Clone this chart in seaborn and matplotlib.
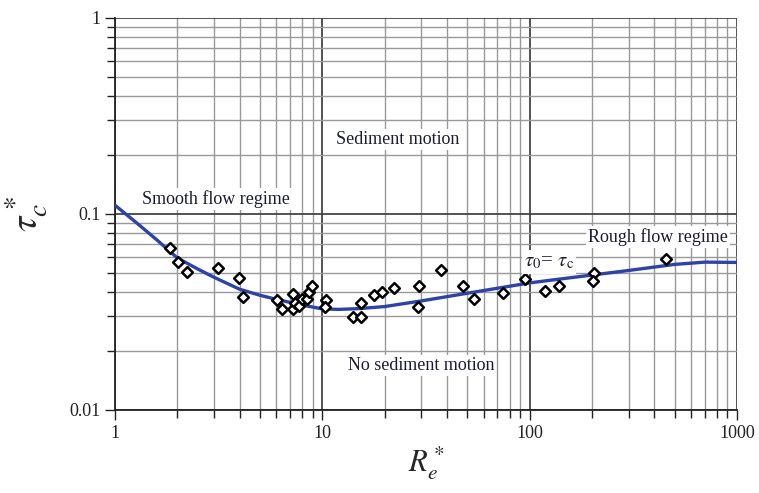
import numpy as np
import pandas as pd
import seaborn as sns
import matplotlib.pyplot as plt
from matplotlib.ticker import LogLocator, FixedLocator, NullFormatter

# measured points (Re*, tau_c*)
re_pts = [1.85, 2.01, 2.23, 3.15, 3.97, 4.13, 6.03, 6.37, 7.25, 7.2, 7.4, 7.75, 7.95,
          8.4, 8.66, 8.89, 10.4, 10.3, 14.1, 15.3, 15.3, 17.7, 19.5, 22.2, 29.2, 29.0,
          37.5, 47.8, 53.8, 74.5, 95.1, 118, 139, 204, 202, 453]
tau_pts = [0.067, 0.057, 0.0508, 0.0528, 0.047, 0.0379, 0.0364, 0.0326, 0.0389, 0.0327,
           0.0353, 0.034, 0.037, 0.037, 0.040, 0.043, 0.0364, 0.0337, 0.0297, 0.0297,
           0.035, 0.0386, 0.0399, 0.0418, 0.043, 0.0337, 0.0518, 0.043, 0.0367, 0.0397,
           0.0468, 0.0406, 0.043, 0.0502, 0.0455, 0.0589]

# Shields curve
re_curve = [1, 1.3, 1.6, 2, 2.5, 3, 4, 5, 6, 8, 10, 12, 15, 20, 30, 50, 70,
            100, 150, 200, 300, 500, 700, 1000]
tau_curve = [0.111, 0.0885, 0.0735, 0.0597, 0.0525, 0.0476, 0.0413, 0.0385, 0.0367,
             0.0343, 0.0328, 0.0326, 0.0329, 0.0337, 0.0360, 0.0394, 0.0418,
             0.0445, 0.0470, 0.0488, 0.0515, 0.0553, 0.0568, 0.0566]

pts = pd.DataFrame({"Re": re_pts, "tau": tau_pts})
curve = pd.DataFrame({"Re": re_curve, "tau": tau_curve})

sns.set_style("white")
plt.rcParams["font.family"] = ["Liberation Serif", "DejaVu Serif"]
plt.rcParams["mathtext.fontset"] = "stix"

fig = plt.figure(figsize=(7.59, 4.93), dpi=100)
ax = fig.add_axes([0.1513, 0.1684, 0.8197, 0.7951])

ax.set_xscale("log")
ax.set_yscale("log")
ax.set_xlim(1, 1000)
ax.set_ylim(0.01, 1)

sns.lineplot(data=curve, x="Re", y="tau", ax=ax, color="#2e43a8", lw=2.4, zorder=3)
sns.scatterplot(data=pts, x="Re", y="tau", ax=ax, marker="D", s=30,
                facecolor="white", edgecolor="black", linewidth=1.8, zorder=4)

ax.xaxis.set_major_locator(FixedLocator([1, 10, 100, 1000]))
ax.yaxis.set_major_locator(FixedLocator([0.01, 0.1, 1]))
ax.xaxis.set_minor_locator(LogLocator(base=10, subs=np.arange(2, 10)))
ax.yaxis.set_minor_locator(LogLocator(base=10, subs=np.arange(2, 10)))
ax.xaxis.set_minor_formatter(NullFormatter())
ax.yaxis.set_minor_formatter(NullFormatter())
ax.set_xticklabels(["1", "10", "100", "1000"])
ax.set_yticklabels(["0.01", "0.1", "1"])

ax.grid(which="major", color="#444444", lw=1.3, zorder=0)
ax.grid(which="minor", color="#999999", lw=1.0, zorder=0)
ax.tick_params(which="both", direction="out", left=True, bottom=True,
               colors="#222222", labelsize=13, length=7, width=1)
ax.tick_params(which="minor", length=6)
for s in ["top", "right"]:
    ax.spines[s].set_visible(False)
for s in ["left", "bottom"]:
    ax.spines[s].set_color("#222222")
    ax.spines[s].set_linewidth(1.3)

ax.set_xlabel(r"$R_e^*$", fontsize=22, labelpad=2)
ax.set_ylabel(r"$\tau_c^*$", fontsize=28, labelpad=14)

box = dict(facecolor="white", edgecolor="none", pad=1.5)
txt = dict(fontsize=13, color="#1c1c30", ha="center", va="center", zorder=5, bbox=box)
ax.text(23.2, 0.239, "Sediment motion", **txt)
ax.text(3.07, 0.119, "Smooth flow regime", **txt)
ax.text(415, 0.0763, "Rough flow regime", **txt)
ax.text(29.9, 0.0168, "No sediment motion", **txt)
ax.text(124, 0.0569, r"$\tau_0$= $\tau_\mathrm{c}$", fontsize=15, color="#1c1c30",
        ha="center", va="center", zorder=5, bbox=box)

fig.savefig("out.png", dpi=100)
